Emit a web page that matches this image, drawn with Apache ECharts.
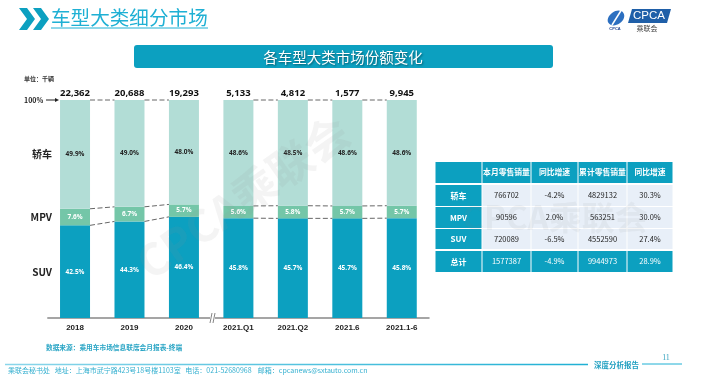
<!DOCTYPE html>
<html><head><meta charset="utf-8">
<script src="https://cdn.jsdelivr.net/npm/echarts@6/dist/echarts.min.js"></script>
<style>html,body{margin:0;padding:0;background:#fff}#c{width:706px;height:385px}</style>
</head><body><div id="c"></div>
<script>
const categories = ['2018','2019','2020','2021.Q1','2021.Q2','2021.6','2021.1-6'];
const totals = ['22,362','20,688','19,293','5,133','4,812','1,577','9,945'];
const suv = [42.5,44.3,46.4,45.8,45.7,45.7,45.8];
const mpv = [7.6,6.7,5.7,5.6,5.8,5.7,5.7];
const car = [49.9,49.0,48.0,48.6,48.5,48.6,48.6];
const tableHead = ['本月零售销量','同比增速','累计零售销量','同比增速'];
const tableRows = [
  ['轿车','766702','-4.2%','4829132','30.3%'],
  ['MPV','90596','2.0%','563251','30.0%'],
  ['SUV','720089','-6.5%','4552590','27.4%'],
  ['总计','1577387','-4.9%','9944973','28.9%']
];
const BW = 30, BREAK_AFTER = 2;
const CJK = '"Noto Sans CJK SC","Noto Sans",sans-serif';
const TEAL = '#0ca0c0', CYAN = '#1fb0d4';

function txt(x,y,t,size,fill,o){ return {type:'text',silent:true,z:(o&&o.z)||20,x,y,rotation:(o&&o.rot)||0,
  style:Object.assign({text:t,font:((o&&o.w)||'normal')+' '+size+'px '+((o&&o.ff)||CJK),fill,align:(o&&o.a)||'center',verticalAlign:'middle'},(o&&o.s)||{})}; }
function rect(x,y,w,h,fill,r,z){ return {type:'rect',silent:true,z:z||10,shape:{x,y,width:w,height:h,r:r||0},style:{fill}}; }
function line(x1,y1,x2,y2,stroke,lw,z){ return {type:'line',silent:true,z:z||20,shape:{x1,y1,x2,y2},style:{stroke,lineWidth:lw}}; }

const g = [];
// header
[[19,0],[33,0]].forEach(p=>g.push({type:'polygon',silent:true,z:20,shape:{points:[[p[0],8],[p[0]+8,8],[p[0]+16,19],[p[0]+8,30],[p[0],30],[p[0]+8,19]]},style:{fill:TEAL}}));
g.push(txt(51,18,'车型大类细分市场',19.6,CYAN,{a:'left'}));
g.push(line(51,28,208,28,CYAN,1));
g.push(rect(134,45,419,23,TEAL,3));
g.push(txt(343,57,'各车型大类市场份额变化',14.5,'#fff',{z:21,s:{textShadowColor:'rgba(0,0,0,.45)',textShadowBlur:2,textShadowOffsetX:1,textShadowOffsetY:1}}));
// logo
g.push({type:'ellipse',silent:true,z:20,x:616,y:18,rotation:0.6,shape:{cx:0,cy:0,rx:9,ry:6.5},style:{fill:'#2c6fc0'}});
g.push({type:'line',silent:true,z:21,shape:{x1:612,y1:25,x2:622,y2:9},style:{stroke:'#fff',lineWidth:1.5}});
g.push(txt(615,29,'CPCA',4,'#1a3f8f',{w:'bold',ff:'Liberation Sans'}));
g.push({type:'polygon',silent:true,z:20,shape:{points:[[632,9],[671,9],[667,23],[628,23]]},style:{fill:'#1f5fa8'}});
g.push(txt(649,16,'CPCA',11.5,'#fff',{ff:'Liberation Sans',s:{fontStyle:'italic'}}));
g.push(txt(647,28,'乘联会',7,'#444'));
// left labels
g.push(txt(24,79,'单位：千辆',6,'#333',{a:'left',w:'bold'}));
g.push(txt(24,100,'100%',7,'#222',{a:'left',w:'bold'}));
g.push(line(46,100,56,100,'#222',1));
g.push({type:'polygon',silent:true,z:20,shape:{points:[[59,100],[55,98],[55,102]]},style:{fill:'#222'}});
g.push(txt(52,154,'轿车',10,'#222',{a:'right',w:'bold'}));
g.push(txt(52,217,'MPV',10,'#222',{a:'right',w:'bold'}));
g.push(txt(52,272,'SUV',10,'#222',{a:'right',w:'bold'}));
// axis break
g.push(rect(210,315,5,6,'#fff',0,20));
g.push(line(210,323,212,313,'#666',.8,21));
g.push(line(213,323,215,313,'#666',.8,21));
// watermarks
g.push(txt(243,197,'CPCA乘联会',44,'rgba(150,150,150,.1)',{z:0,rot:35*Math.PI/180,w:'bold'}));
// table
const cols=[435,482,531,578,627,673], rowY=[[162,183],[185,206],[207,228],[229,249],[251,272]];
rowY.forEach((r,ri)=>{
  for(let c=0;c<5;c++){
    const blue = ri===0||ri===4||c===0;
    g.push(rect(cols[c]+.5,r[0],cols[c+1]-cols[c]-1,r[1]-r[0],blue?TEAL:'#e8eff8',0,10));
    const t = ri===0 ? (c===0?'':tableHead[c-1]) : tableRows[ri-1][c];
    if(t){
      g.push(txt((cols[c]+cols[c+1])/2,(r[0]+r[1])/2,t,ri===0?7.8:(c===0?8:7.5),blue?'#fff':'#222',{w:(c===0||ri===0)?'bold':'normal'}));
    }
  }
});
g.push(txt(555,217,'CPCA乘联会',33,'rgba(130,130,130,.08)',{z:15,w:'bold'}));
// footer
g.push(txt(46,347,'数据来源：乘用车市场信息联席会月报表-终端',6.7,'#2aa5c5',{a:'left',w:'bold'}));
g.push({type:'line',silent:true,z:20,shape:{x1:5,y1:364.5,x2:588,y2:364.5},style:{lineWidth:1.5,stroke:new echarts.graphic.LinearGradient(0,0,1,0,[{offset:0,color:'#8bd6ea'},{offset:1,color:'#1fb0d4'}])}});
g.push(txt(594,365,'深度分析报告',7.5,'#1f9fc0',{a:'left',w:'bold'}));
g.push(line(642,364,682,364,CYAN,1));
g.push(txt(666,358,'11',8,'#3aa5c0',{ff:'Liberation Serif'}));
g.push(txt(8,370,'乘联会秘书处   地址：上海市武宁路423号18号楼1103室   电话：021-52680968    邮箱：cpcanews@sxtauto.com.cn',7,'#35b0d0',{a:'left'}));

const lbl=(c)=>({show:true,position:'inside',color:c,fontSize:6.5,fontWeight:'bold',fontFamily:'"Open Sans",sans-serif',formatter:p=>p.value.toFixed(1)+'%'});
const barBase={type:'bar',stack:'s',barWidth:BW,z:5};
const links = categories.map((_,i)=>[i,suv[i],suv[i]+mpv[i],100]);

const chart=echarts.init(document.getElementById('c'),null,{renderer:'canvas'});
chart.setOption({
  animation:false,
  grid:{left:47.8,right:277,top:100,bottom:67,containLabel:false},
  xAxis:[
    {type:'category',data:categories,axisTick:{show:false},axisLine:{lineStyle:{color:'#888',width:1.5}},
     axisLabel:{color:'#222',fontSize:8,fontWeight:'bold',fontFamily:'"Liberation Sans",sans-serif',margin:6,interval:0}},
    {type:'category',position:'top',data:totals,axisTick:{show:false},axisLine:{show:false},
     axisLabel:{color:'#111',fontSize:9.5,fontWeight:'bold',fontFamily:'"Open Sans",sans-serif',margin:2,interval:0}}
  ],
  yAxis:{type:'value',min:0,max:100,interval:100,show:false},
  series:[
    Object.assign({},barBase,{name:'SUV',data:suv,itemStyle:{color:TEAL},label:lbl('#fff')}),
    Object.assign({},barBase,{name:'MPV',data:mpv,itemStyle:{color:'#74c6a8'},label:lbl('#fff')}),
    Object.assign({},barBase,{name:'轿车',data:car,itemStyle:{color:'#b2ddd6'},label:lbl('#222')}),
    {type:'custom',z:6,silent:true,data:links,encode:{x:0,y:[1,2,3]},
     renderItem:function(params,api){
       const i=api.value(0);
       if(i>=categories.length-1||i===BREAK_AFTER) return {type:'group',children:[]};
       const kids=[1,2,3].map(k=>{
         const a=api.coord([i,api.value(k)]), b=api.coord([i+1,links[i+1][k]]);
         return {type:'line',shape:{x1:a[0]+BW/2,y1:a[1],x2:b[0]-BW/2,y2:b[1]},style:{stroke:'#666',lineWidth:1,lineDash:[5,2.5]}};
       });
       return {type:'group',children:kids};
     }}
  ],
  graphic:{elements:g}
});
</script></body></html>
